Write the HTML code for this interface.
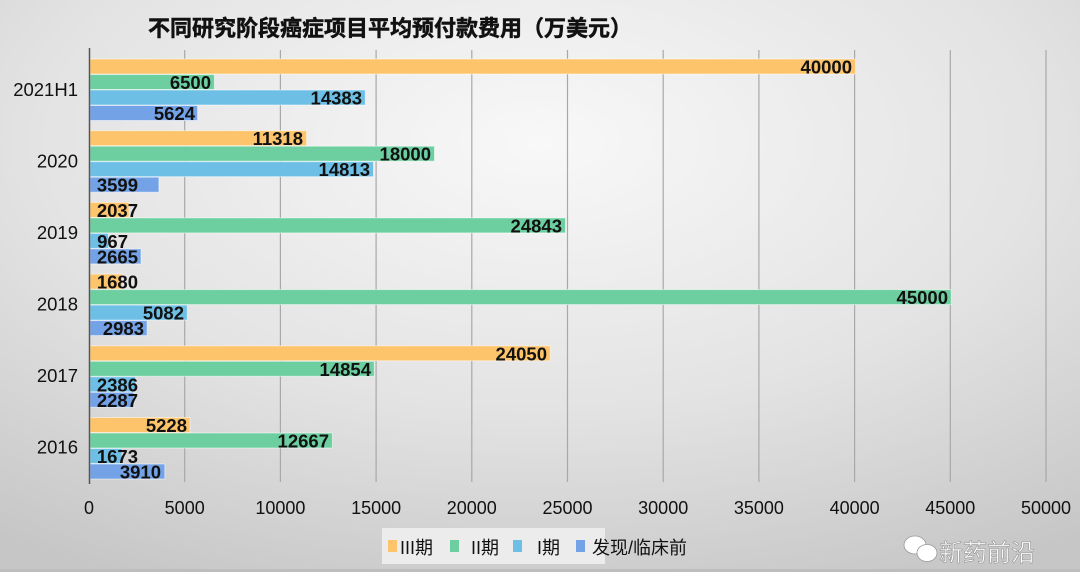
<!DOCTYPE html>
<html><head><meta charset="utf-8"><style>
html,body{margin:0;padding:0;}
body{width:1080px;height:572px;overflow:hidden;}
svg text{font-family:"Liberation Sans","Noto Sans CJK SC",sans-serif;}
</style></head><body>
<svg width="1080" height="572" xmlns="http://www.w3.org/2000/svg">
<defs>
<radialGradient id="bg" cx="0.5" cy="0.25" r="0.85">
<stop offset="0" stop-color="#f8f8f8"/>
<stop offset="0.55" stop-color="#e3e3e3"/>
<stop offset="1" stop-color="#c6c6c6"/>
</radialGradient>
</defs>
<rect width="1080" height="572" fill="url(#bg)"/>
<rect x="0" y="569" width="1080" height="3" fill="#bdbdbd"/>
<text x="148" y="36" font-size="22" font-weight="bold" fill="#111" stroke="#111" stroke-width="0.5">不同研究阶段癌症项目平均预付款费用（万美元）</text>
<g stroke="#a8a8a8" stroke-width="1.2">
<line x1="184.7" y1="50" x2="184.7" y2="482"/><line x1="280.4" y1="50" x2="280.4" y2="482"/>
<line x1="376.1" y1="50" x2="376.1" y2="482"/><line x1="471.8" y1="50" x2="471.8" y2="482"/>
<line x1="567.5" y1="50" x2="567.5" y2="482"/><line x1="663.2" y1="50" x2="663.2" y2="482"/>
<line x1="758.9" y1="50" x2="758.9" y2="482"/><line x1="854.6" y1="50" x2="854.6" y2="482"/>
<line x1="950.3" y1="50" x2="950.3" y2="482"/><line x1="1046" y1="50" x2="1046" y2="482"/>
</g>
<g stroke="#fff" stroke-opacity="0.5" stroke-width="1">
<rect x="90" y="59" width="765.6" height="15" fill="#FDC46B"/>
<rect x="90" y="74.5" width="124.4" height="15" fill="#6DCFA0"/>
<rect x="90" y="90" width="275.3" height="15" fill="#6DBFE6"/>
<rect x="90" y="105.5" width="107.6" height="15" fill="#73A2E6"/>
<rect x="90" y="130.7" width="216.6" height="15" fill="#FDC46B"/>
<rect x="90" y="146.2" width="344.5" height="15" fill="#6DCFA0"/>
<rect x="90" y="161.7" width="283.5" height="15" fill="#6DBFE6"/>
<rect x="90" y="177.2" width="68.9" height="15" fill="#73A2E6"/>
<rect x="90" y="202.4" width="39" height="15" fill="#FDC46B"/>
<rect x="90" y="217.9" width="475.5" height="15" fill="#6DCFA0"/>
<rect x="90" y="233.4" width="18.5" height="15" fill="#6DBFE6"/>
<rect x="90" y="248.9" width="51" height="15" fill="#73A2E6"/>
<rect x="90" y="274.1" width="32.2" height="15" fill="#FDC46B"/>
<rect x="90" y="289.6" width="861.3" height="15" fill="#6DCFA0"/>
<rect x="90" y="305.1" width="97.3" height="15" fill="#6DBFE6"/>
<rect x="90" y="320.6" width="57.1" height="15" fill="#73A2E6"/>
<rect x="90" y="345.8" width="460.3" height="15" fill="#FDC46B"/>
<rect x="90" y="361.3" width="284.3" height="15" fill="#6DCFA0"/>
<rect x="90" y="376.8" width="45.7" height="15" fill="#6DBFE6"/>
<rect x="90" y="392.3" width="43.8" height="15" fill="#73A2E6"/>
<rect x="90" y="417.5" width="100.1" height="15" fill="#FDC46B"/>
<rect x="90" y="433" width="242.4" height="15" fill="#6DCFA0"/>
<rect x="90" y="448.5" width="32" height="15" fill="#6DBFE6"/>
<rect x="90" y="464" width="74.8" height="15" fill="#73A2E6"/>
</g>
<line x1="89.5" y1="48" x2="89.5" y2="484" stroke="#555" stroke-width="1.5"/>
<g font-size="18.5" font-weight="bold" fill="#111" text-anchor="end">
<text x="852" y="73.5">40000</text><text x="211" y="89">6500</text><text x="362" y="104.5">14383</text><text x="195" y="120">5624</text>
<text x="303" y="145.2">11318</text><text x="431" y="160.7">18000</text><text x="370" y="176.2">14813</text><text x="138" y="191.7">3599</text>
<text x="138" y="216.9">2037</text><text x="562" y="232.4">24843</text><text x="128" y="247.9">967</text><text x="138" y="263.4">2665</text>
<text x="138" y="288.6">1680</text><text x="948" y="304.1">45000</text><text x="184" y="319.6">5082</text><text x="144" y="335.1">2983</text>
<text x="547" y="360.3">24050</text><text x="371" y="375.8">14854</text><text x="138" y="391.3">2386</text><text x="138" y="406.8">2287</text>
<text x="187" y="432">5228</text><text x="329" y="447.5">12667</text><text x="138" y="463">1673</text><text x="161" y="478.5">3910</text>
</g>
<g font-size="18.5" fill="#111" text-anchor="end">
<text x="78" y="96">2021H1</text><text x="78" y="167.5">2020</text><text x="78" y="239">2019</text>
<text x="78" y="310.5">2018</text><text x="78" y="382">2017</text><text x="78" y="453.5">2016</text>
</g>
<g font-size="18" fill="#111" text-anchor="middle">
<text x="89" y="514">0</text><text x="184.7" y="514">5000</text><text x="280.4" y="514">10000</text>
<text x="376.1" y="514">15000</text><text x="471.8" y="514">20000</text><text x="567.5" y="514">25000</text>
<text x="663.2" y="514">30000</text><text x="758.9" y="514">35000</text><text x="854.6" y="514">40000</text>
<text x="950.3" y="514">45000</text><text x="1046" y="514">50000</text>
</g>
<rect x="382" y="528" width="223" height="36" fill="#ececec"/>
<g font-size="18" fill="#111">
<rect x="388" y="540" width="9" height="12" fill="#FDC46B"/><text x="400" y="554" font-family="Liberation Serif">III<tspan font-family="Noto Sans CJK SC">期</tspan></text>
<rect x="450" y="540" width="9" height="12" fill="#6DCFA0"/><text x="471" y="554" font-family="Liberation Serif">II<tspan font-family="Noto Sans CJK SC">期</tspan></text>
<rect x="513" y="540" width="9" height="12" fill="#6DBFE6"/><text x="537" y="554" font-family="Liberation Serif">I<tspan font-family="Noto Sans CJK SC">期</tspan></text>
<rect x="576" y="540" width="9" height="12" fill="#73A2E6"/><text x="592" y="554">发现/临床前</text>
</g>
<g fill="#fff" stroke="#999" stroke-width="0.8">
<ellipse cx="915" cy="545" rx="11" ry="9"/>
<ellipse cx="927" cy="553" rx="10" ry="8.5"/>
</g>
<text x="939" y="561" font-size="24" fill="#fff" stroke="#888" stroke-width="0.5">新药前沿</text>
</svg>
</body></html>
